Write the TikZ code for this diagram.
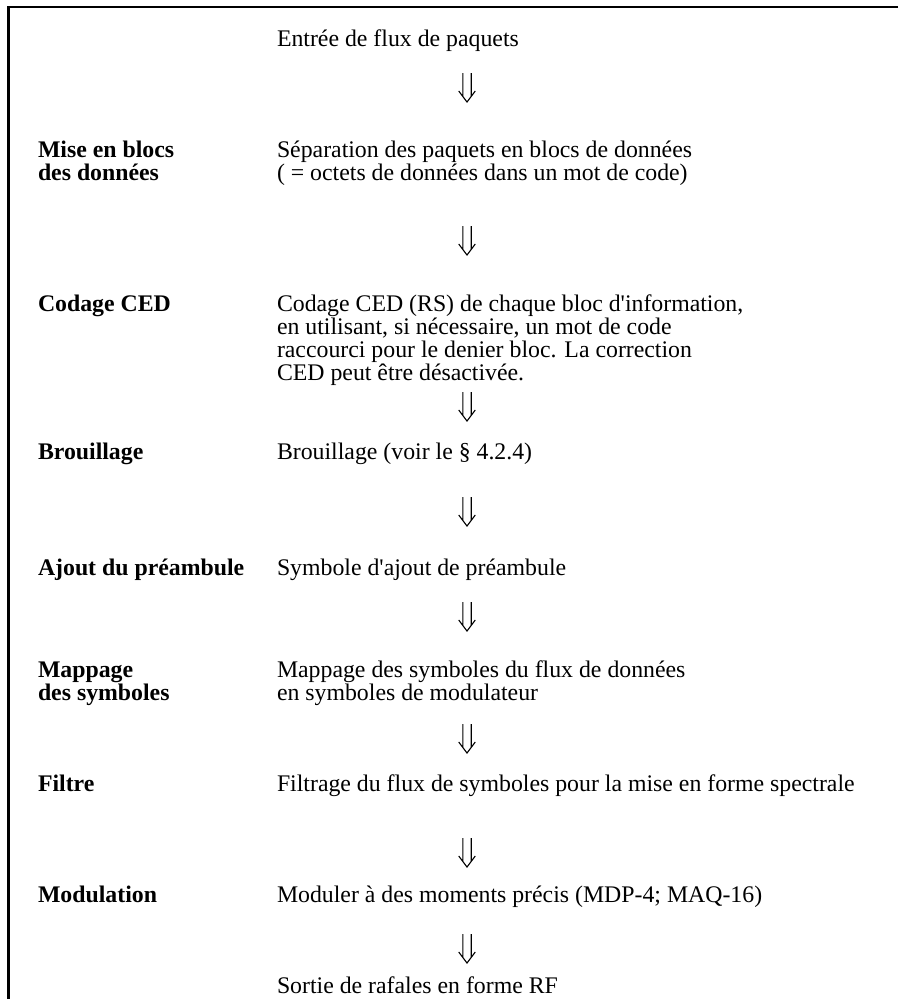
\documentclass[tikz,border=0pt]{standalone}
\usepackage{fontspec}
\setmainfont{Liberation Serif}[Ligatures=TeXOff]
\begin{document}
\begin{tikzpicture}[x=1pt,y=-1pt,
  every node/.style={inner sep=0pt, outer sep=0pt, anchor=base west,
    font=\fontsize{23.8}{23.3}\selectfont},
  stage/.style={font=\fontsize{23.8}{23.3}\selectfont\bfseries},
  frame/.style={line width=2.4pt, line join=miter},
  arrowline/.style={line width=1.1pt, line join=miter},
  dnarrow/.pic={\draw[arrowline] (-4.2,0) -- (-4.2,23.4) (4.2,0) -- (4.2,23.4)
                 (-8.3,18) -- (0,29) -- (8.3,18);}
]
\useasboundingbox (0,0) rectangle (898,999);

% open frame: top rule and left rule
\draw[frame] (898,7.2) -- (8.6,7.2) -- (8.6,1001);

% input
\node (in) at (277,46) {Entrée de flux de paquets};
\coordinate (a1) at (467,73);
\pic at (a1) {dnarrow};

% data blocking
\node[stage] (s1a) at (38,157) {Mise en blocs};
\node[stage] (s1b) at (38,180) {des données};
\node (d1a) at (277,157) {Séparation des paquets en blocs de données};
\node (d1b) at (277,180) {( = octets de données dans un mot de code)};
\coordinate (a2) at (467,226);
\pic at (a2) {dnarrow};

% FEC coding
\node[stage] (s2) at (38,311) {Codage CED};
\node (d2a) at (277,311) {Codage CED (RS) de chaque bloc d'information,};
\node (d2b) at (277,334) {en utilisant, si nécessaire, un mot de code};
\node (d2c) at (277,357) {raccourci pour le denier bloc. La correction};
\node (d2d) at (277,380) {CED peut être désactivée.};
\coordinate (a3) at (467,392);
\pic at (a3) {dnarrow};

% scrambling
\node[stage] (s3) at (38,459) {Brouillage};
\node (d3) at (277,459) {Brouillage (voir le § 4.2.4)};
\coordinate (a4) at (467,497);
\pic at (a4) {dnarrow};

% preamble
\node[stage] (s4) at (38,575) {Ajout du préambule};
\node (d4) at (277,575) {Symbole d'ajout de préambule};
\coordinate (a5) at (467,602);
\pic at (a5) {dnarrow};

% symbol mapping
\node[stage] (s5a) at (38,677) {Mappage};
\node[stage] (s5b) at (38,700) {des symboles};
\node (d5a) at (277,677) {Mappage des symboles du flux de données};
\node (d5b) at (277,700) {en symboles de modulateur};
\coordinate (a6) at (467,724);
\pic at (a6) {dnarrow};

% filter
\node[stage] (s6) at (38,791) {Filtre};
\node (d6) at (277,791) {Filtrage du flux de symboles pour la mise en forme spectrale};
\coordinate (a7) at (467,838);
\pic at (a7) {dnarrow};

% modulation
\node[stage] (s7) at (38,902) {Modulation};
\node (d7) at (277,902) {Moduler à des moments précis (MDP-4; MAQ-16)};
\coordinate (a8) at (467,934);
\pic at (a8) {dnarrow};

% output
\node (out) at (277,993) {Sortie de rafales en forme RF};
\end{tikzpicture}
\end{document}
